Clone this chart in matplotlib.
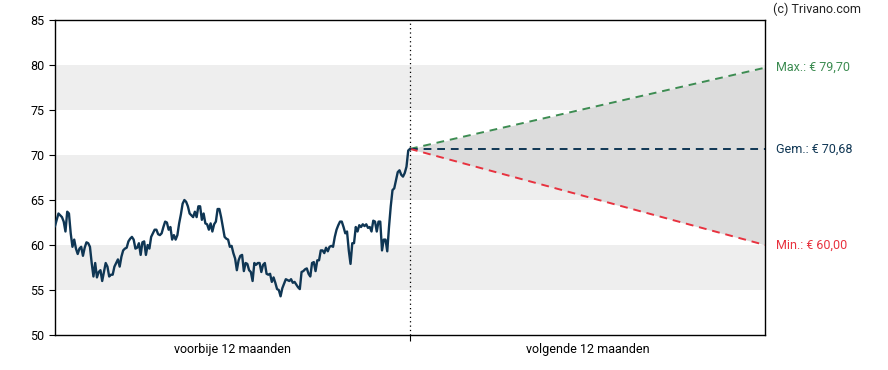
import numpy as np
import matplotlib.pyplot as plt

plt.rcParams['font.family'] = ['Roboto', 'DejaVu Sans']

koers = [
    62.1, 62.8, 63.5, 63.3, 63.1, 62.6, 61.5, 63.7, 63.5, 61.3,
    59.8, 60.6, 59.6, 59.0, 59.6, 59.8, 58.8, 59.7, 60.3, 60.2,
    59.8, 58.0, 56.5, 58.0, 56.4, 57.0, 57.2, 56.0, 57.0, 58.0,
    57.6, 56.5, 56.7, 56.7, 57.6, 58.0, 58.4, 57.6, 58.7, 59.4,
    59.6, 59.7, 60.4, 60.7, 60.9, 60.6, 59.6, 59.7, 60.2, 58.9,
    60.3, 60.4, 58.9, 60.0, 59.6, 60.9, 61.3, 61.7, 61.7, 61.2,
    61.1, 61.3, 62.0, 62.6, 62.5, 61.7, 62.0, 60.6, 61.1, 60.6,
    61.1, 62.4, 63.4, 64.6, 65.0, 64.8, 64.3, 63.5, 63.3, 63.1,
    63.7, 63.1, 64.3, 64.3, 62.8, 63.5, 62.4, 62.3, 61.7, 62.4,
    61.5, 62.3, 62.6, 64.0, 64.0, 63.1, 62.0, 60.9, 60.7, 60.6,
    59.8, 59.9, 59.1, 58.5, 57.2, 58.3, 58.8, 58.9, 57.1, 58.0,
    57.9, 57.2, 57.0, 56.0, 58.0, 57.8, 58.0, 58.0, 57.0, 57.8,
    58.0, 56.8, 56.7, 56.8, 55.9, 56.4, 55.8, 55.1, 55.0, 54.3,
    55.2, 55.7, 56.2, 56.1, 56.0, 56.2, 55.8,
    55.9, 55.6, 55.3, 55.1, 57.0, 57.1, 57.3, 57.4, 56.8, 56.5,
    58.0, 58.1, 57.1, 58.3, 58.3, 59.4, 59.4, 59.1, 59.7, 59.3,
    59.8, 59.9, 59.8, 60.9, 61.7, 62.2, 62.6, 62.6, 62.0, 61.3,
    61.5, 59.4, 57.9, 60.2, 60.2, 62.0, 61.5, 62.2, 62.0, 62.3,
    62.1, 62.3, 61.9, 62.0, 61.5, 62.7, 62.6, 61.5, 62.6, 62.6,
    59.4, 60.6, 60.6, 59.3, 62.0, 64.3, 66.1,
    66.3, 67.2, 68.1, 68.3, 67.8, 67.6, 68.0, 68.7, 70.5, 70.68,
]

# koersdoelen volgende 12 maanden
koers_nu = 70.68
doel_max = 79.70
doel_gem = 70.68
doel_min = 60.00

x_label_links = "voorbije 12 maanden"
x_label_rechts = "volgende 12 maanden"

groen = '#3d8c52'
donker = '#0f3654'
rood = '#e8323f'

fig = plt.figure(figsize=(8.88, 3.70), dpi=100)
ax = fig.add_axes([0.0619, 0.0946, 0.7996, 0.8513])

# grijze banden
for lo in [55, 65, 75]:
    ax.axhspan(lo, lo + 5, color='#eeeeee', lw=0, zorder=0)

x_past = np.linspace(0, 1, len(koers))
ax.plot(x_past, koers, color=donker, lw=1.7, zorder=4, solid_joinstyle='round')

# prognose
ax.fill_between([1, 2], [koers_nu, doel_max], [koers_nu, doel_min],
                color='#dcdcdc', lw=0, zorder=1)
ax.plot([1, 2], [koers_nu, doel_max], color=groen, lw=1.4, ls=(0, (4, 3)), zorder=3)
ax.plot([1, 2], [koers_nu, doel_gem], color=donker, lw=1.4, ls=(0, (4, 3)), zorder=3)
ax.plot([1, 2], [koers_nu, doel_min], color=rood, lw=1.4, ls=(0, (4, 3)), zorder=3)

ax.axvline(1, color='black', lw=0.9, ls=(0, (1, 2.5)), zorder=5)

fmt = lambda v: f"{v:.2f}".replace('.', ',')
ax.text(2.03, doel_max, f"Max.: € {fmt(doel_max)}", color=groen, fontsize=9, va='center', ha='left')
ax.text(2.03, doel_gem, f"Gem.: € {fmt(doel_gem)}", color=donker, fontsize=9, va='center', ha='left')
ax.text(2.03, doel_min, f"Min.: € {fmt(doel_min)}", color=rood, fontsize=9, va='center', ha='left')

fig.text(0.870, 0.976, "(c) Trivano.com", fontsize=9, color='#222222', ha='left', va='center')

ax.set_xlim(0, 2)
ax.set_ylim(50, 85)
ax.set_yticks(np.arange(50, 86, 5))
ax.set_xticks([1])
ax.set_xticklabels([''])
ax.set_xticks([0.5, 1.5], minor=True)
ax.set_xticklabels([x_label_links, x_label_rechts], minor=True)
ax.tick_params(axis='x', which='minor', length=0, labelsize=9, pad=6)
ax.tick_params(axis='x', which='major', length=4)
ax.tick_params(axis='y', labelsize=9, length=4)
for s in ax.spines.values():
    s.set_linewidth(1)

fig.savefig('out.png', dpi=100)
